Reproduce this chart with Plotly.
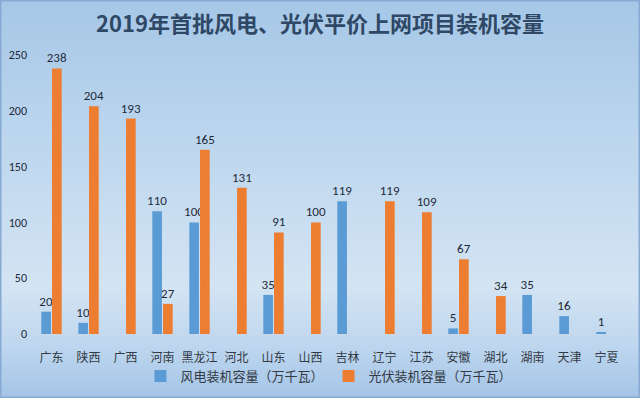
import plotly.graph_objects as go
import base64

provinces = ["广东", "陕西", "广西", "河南", "黑龙江", "河北", "山东", "山西",
             "吉林", "辽宁", "江苏", "安徽", "湖北", "湖南", "天津", "宁夏"]
wind = [20, 10, 0, 110, 100, 0, 35, 0, 119, 0, 0, 5, 0, 35, 16, 1]
solar = [238, 204, 193, 27, 165, 131, 91, 100, 0, 119, 109, 67, 34, 0, 0, 0]
yticks = [0, 50, 100, 150, 200, 250]

title = "2019年首批风电、光伏平价上网项目装机容量"
wind_name = "风电装机容量（万千瓦）"
solar_name = "光伏装机容量（万千瓦）"

def labels(vals):
    return [str(v) if v else "" for v in vals]

W, H = 640, 398
ML, MR, MT, MB = 33, 15, 55, 64
PW, PH = W - ML - MR, H - MT - MB

svg = """<svg xmlns='http://www.w3.org/2000/svg' width='640' height='398' preserveAspectRatio='none'>
<defs><linearGradient id='g' x1='0' y1='0' x2='0' y2='1'>
<stop offset='0' stop-color='#a6c7e7'/>
<stop offset='0.35' stop-color='#bcd6ee'/>
<stop offset='0.72' stop-color='#d3e4f3'/>
<stop offset='0.88' stop-color='#bcd5ee'/>
<stop offset='1' stop-color='#a4c4e7'/>
</linearGradient></defs>
<rect width='640' height='398' fill='url(#g)'/>
<rect x='0.75' y='0.75' width='638.5' height='396.5' fill='none' stroke='#86aad3' stroke-width='1.5'/>
</svg>"""
bg = "data:image/svg+xml;base64," + base64.b64encode(svg.encode()).decode()

txtfont = dict(family="Carlito, Liberation Sans, Arial, sans-serif", size=13, color="#1f2a3a")

fig = go.Figure()
fig.add_trace(go.Bar(
    x=provinces, y=wind, name=wind_name,
    marker=dict(color="#5b9bd5", line=dict(width=0)),
    text=labels(wind), textposition="outside", textfont=txtfont, cliponaxis=False,
    constraintext="none", hoverinfo="skip",
))
fig.add_trace(go.Bar(
    x=provinces, y=solar, name=solar_name,
    marker=dict(color="#ed7d31", line=dict(width=0)),
    text=labels(solar), textposition="outside", textfont=txtfont, cliponaxis=False,
    constraintext="none", hoverinfo="skip",
))

fig.update_layout(
    width=W, height=H,
    margin=dict(l=ML, r=MR, t=MT, b=MB, autoexpand=False),
    paper_bgcolor="#bcd6ee",
    plot_bgcolor="rgba(0,0,0,0)",
    barmode="group",
    bargap=0.42,
    bargroupgap=0.1,
    title=dict(text="<b>" + title + "</b>", x=0.5, xanchor="center", y=0.94, yanchor="middle",
               font=dict(family="Noto Sans CJK SC, sans-serif", size=22, color="#2e4866")),
    images=[dict(source=bg, xref="paper", yref="paper",
                 x=-ML / PW, y=1 + MT / PH, sizex=W / PW, sizey=H / PH,
                 xanchor="left", yanchor="top", layer="below", sizing="stretch")],
    legend=dict(orientation="h", x=0.5, xanchor="center", yref="container", y=0.055, yanchor="middle",
                font=dict(family="Noto Sans CJK SC, sans-serif", size=13, color="#333a44"),
                bgcolor="rgba(0,0,0,0)", itemwidth=30),
    xaxis=dict(showgrid=False, zeroline=False, showline=True, linecolor="#c8d8e8", linewidth=1,
               ticks="", ticklabelstandoff=13, fixedrange=True,
               tickfont=dict(family="Noto Sans CJK SC, sans-serif", size=12, color="#333a44")),
    yaxis=dict(range=[0, 250], tickvals=yticks, showgrid=False, zeroline=False, showline=False,
               ticks="", ticklabelstandoff=5, fixedrange=True,
               tickfont=dict(family="Carlito, Liberation Sans, Arial, sans-serif", size=12, color="#1f2a3a")),
    showlegend=True,
)

fig.write_html("out.html", config={"displayModeBar": False},
               post_script="document.body.style.margin='0';document.body.style.overflow='hidden';")
